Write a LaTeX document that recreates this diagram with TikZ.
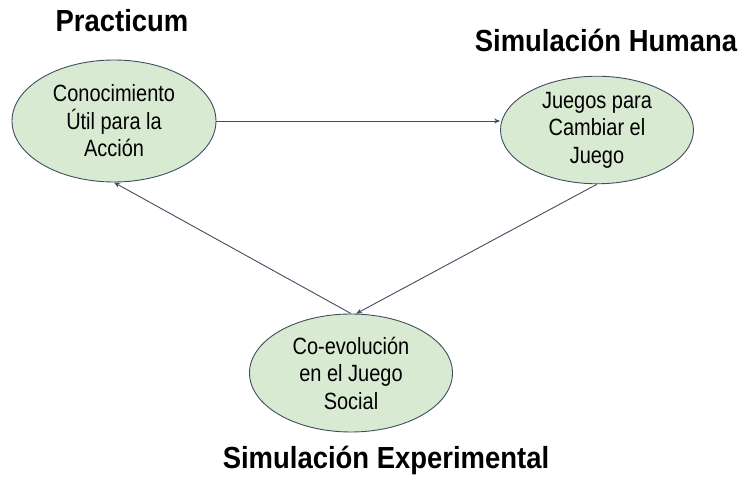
\documentclass[tikz,border=0pt]{standalone}
\usepackage{fontspec}
\setmainfont{Liberation Sans}[FakeStretch=0.85]
\newfontfamily\titlefont{Liberation Sans}[FakeStretch=0.9]
\usetikzlibrary{shapes.geometric,arrows.meta}
\definecolor{leafgreen}{HTML}{D9EAD3}
\definecolor{slateline}{HTML}{3F4D60}
\tikzset{
  idea/.style={ellipse, draw=slateline, fill=leafgreen, line width=0.9pt,
    inner sep=0pt, align=center, font=\fontsize{23.5}{27.5}\selectfont},
  heading/.style={anchor=base, font=\titlefont\bfseries\fontsize{30.5}{34}\selectfont},
  link/.style={draw=slateline, line width=0.9pt, -{Stealth[length=6pt,width=5pt]}}
}
\begin{document}
\begin{tikzpicture}[x=1pt, y=-1pt]
\useasboundingbox (0,0) rectangle (748,481);
% the three games
\node[idea, minimum width=204pt, minimum height=122pt] (util) at (114,121)
  {Conocimiento\\\'Util para la\\Acci\'on};
\node[idea, minimum width=193pt, minimum height=97pt] (juegos) at (597,130)
  {Juegos para\\Cambiar el\\Juego};
\node[idea, minimum width=203pt, minimum height=118pt] (coevo) at (351,373)
  {Co-evoluci\'on\\en el Juego\\Social};
% headings
\node[heading] (practicum) at (122,32) {Practicum};
\node[heading] (humana) at (606,52) {Simulaci\'on Humana};
\node[heading] (experimental) at (386,468) {Simulaci\'on Experimental};
% cycle
\draw[link] (util.east) -- (util.east -| juegos.west);
\draw[link] (juegos.south) -- (coevo.85);
\draw[link] (coevo.north) -- (util.south);
\end{tikzpicture}
\end{document}
